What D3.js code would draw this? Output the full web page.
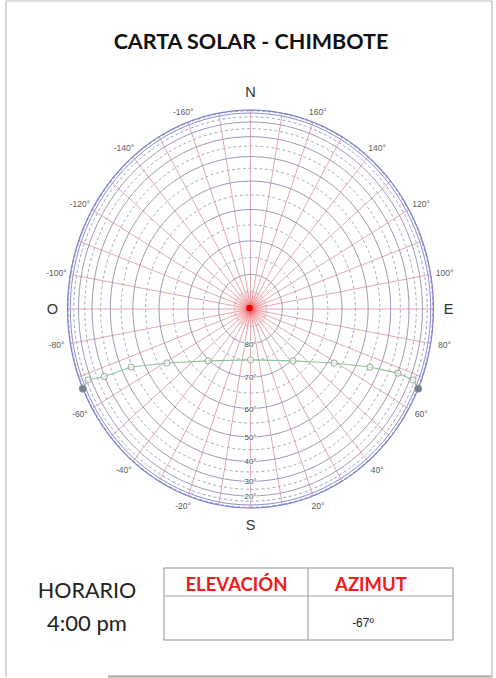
<!DOCTYPE html>
<html>
<head>
<meta charset="utf-8">
<script src="https://cdn.jsdelivr.net/npm/d3@7"></script>
<style>
  html, body { margin: 0; padding: 0; background: #fff; }
  svg { display: block; }
</style>
</head>
<body>
<svg id="chart" width="496" height="678"></svg>
<script>
// ---------------- DATA ----------------
const title = "CARTA SOLAR - CHIMBOTE";
const azimuthTicks = [-160, -140, -120, -100, -80, -60, -40, -20, 20, 40, 60, 80, 100, 120, 140, 160];
const elevationTicks = [80, 70, 60, 50, 40, 30, 20];
const solidCircles = [80, 70, 60, 50, 40, 30, 20, 10];
const dashedCircles = [85, 75, 65, 55, 45, 35, 25, 15, 5];
const radialLines = d3.range(-180, 180, 10);
const cardinalNames = ["N", "E", "S", "O"];
const cardinalAzimuth = [180, 90, 0, -90];
const sunHours = ["6:00", "7:00", "8:00", "9:00", "10:00", "11:00", "12:00", "13:00", "14:00", "15:00", "16:00", "17:00", "18:00"];
const sunAzimuth = [66.4, 68.1, 68.2, 65.9, 59.3, 41.6, 0, -41.6, -59.3, -65.9, -67, -68.1, -66.4];
const sunElevation = [0, 16.9, 29.8, 44.4, 57.9, 69.6, 75.2, 69.6, 57.9, 44.4, 29.8, 16.9, 0];
const horarioLabel = "HORARIO";
const horarioValue = "4:00 pm";
const tableHeaders = ["ELEVACIÓN", "AZIMUT"];
const tableValues = ["", "-67º"];

// ---------------- LAYOUT ----------------
const svg = d3.select("#chart");
const cx = 250.5, cy = 309, rx = 183, ry = 199;
const rad = d => d * Math.PI / 180;

// scales on projected unit coordinates (orthographic: r = cos(elevation))
const x = d3.scaleLinear().domain([-1, 1]).range([cx - rx, cx + rx]);
const y = d3.scaleLinear().domain([-1, 1]).range([cy - ry, cy + ry]);
const xLab = d3.scaleLinear().domain([-1, 1]).range([cx - 197, cx + 197]);
const yLab = d3.scaleLinear().domain([-1, 1]).range([cy - 210, cy + 210]);
const xCard = d3.scaleLinear().domain([-1, 1]).range([cx - 198, cx + 198]);
const yCard = d3.scaleLinear().domain([-1, 1]).range([cy - 217, cy + 216]);

const px = (az, el) => x(Math.cos(rad(el)) * Math.sin(rad(az)));
const py = (az, el) => y(Math.cos(rad(el)) * Math.cos(rad(az)));

// frame
const frame = svg.append("g").attr("stroke", "#bdbdbd").attr("fill", "none");
frame.append("line").attr("x1", 6).attr("y1", 1).attr("x2", 492).attr("y2", 1).attr("stroke-width", 1.2);
frame.append("line").attr("x1", 6).attr("y1", 1).attr("x2", 6).attr("y2", 677).attr("stroke-width", 1.2);
frame.append("line").attr("x1", 492).attr("y1", 1).attr("x2", 492).attr("y2", 677).attr("stroke-width", 1.2);
frame.append("line").attr("x1", 108).attr("y1", 676.5).attr("x2", 492).attr("y2", 676.5).attr("stroke", "#a8a8a8").attr("stroke-width", 2);

// title
svg.append("text").attr("x", 251).attr("y", 49).attr("text-anchor", "middle")
  .attr("font-family", "Lato, 'Open Sans', sans-serif").attr("font-weight", "bold")
  .attr("font-size", 21.5).attr("fill", "#111").text(title);

const chart = svg.append("g");

// center glow
const defs = svg.append("defs");
const grad = defs.append("radialGradient").attr("id", "glow");
grad.append("stop").attr("offset", "0%").attr("stop-color", "#ff2020").attr("stop-opacity", 0.85);
grad.append("stop").attr("offset", "30%").attr("stop-color", "#ff6a6a").attr("stop-opacity", 0.4);
grad.append("stop").attr("offset", "100%").attr("stop-color", "#ffc0c0").attr("stop-opacity", 0);

const ring = el => d3.range(0, 360, 3).map(a => [px(a, el), py(a, el)]);
const lineGen = d3.line().curve(d3.curveLinearClosed);

// dashed circles
chart.append("g").selectAll("path").data(dashedCircles).join("path")
  .attr("d", d => lineGen(ring(d)))
  .attr("fill", "none").attr("stroke", d => d <= 15 ? "#8e90cc" : "#9a9cbc")
  .attr("stroke-width", 0.85).attr("stroke-dasharray", "3,2.5");

// radial lines
chart.append("g").selectAll("line").data(radialLines).join("line")
  .attr("x1", d => px(d, 90)).attr("y1", d => py(d, 90))
  .attr("x2", d => px(d, 0)).attr("y2", d => py(d, 0))
  .attr("stroke", "#d99aa8").attr("stroke-width", 0.85);

// solid circles
chart.append("g").selectAll("path").data(solidCircles).join("path")
  .attr("d", d => lineGen(ring(d)))
  .attr("fill", "none").attr("stroke", d => d <= 10 ? "#8587c8" : "#9b93b0")
  .attr("stroke-width", 0.95);

// horizon circles
chart.append("path").attr("d", lineGen(ring(2.5)))
  .attr("fill", "none").attr("stroke", "#a5a7da").attr("stroke-width", 0.8).attr("stroke-dasharray", "3,2");
chart.append("path").attr("d", lineGen(ring(0)))
  .attr("fill", "none").attr("stroke", "#7e80c8").attr("stroke-width", 1.1);

// center glow + dot
chart.append("ellipse").attr("cx", px(0, 90)).attr("cy", py(0, 90)).attr("rx", 22).attr("ry", 24).attr("fill", "url(#glow)");
chart.append("circle").attr("cx", px(0, 90) - 1).attr("cy", py(0, 90) - 1).attr("r", 3.2).attr("fill", "#e80000");

// elevation labels
chart.append("g").selectAll("text").data(elevationTicks).join("text")
  .attr("x", d => px(0, d)).attr("y", d => py(0, d) + 3)
  .attr("text-anchor", "middle").attr("font-family", "Arial, 'Liberation Sans', sans-serif")
  .attr("font-size", 8).attr("fill", "#444")
  .attr("stroke", "#fff").attr("stroke-width", 1.5).attr("paint-order", "stroke")
  .text(d => d + "°");

// azimuth labels
chart.append("g").selectAll("text").data(azimuthTicks).join("text")
  .attr("x", d => xLab(Math.sin(rad(d)))).attr("y", d => yLab(Math.cos(rad(d))) + 3)
  .attr("text-anchor", "middle").attr("font-family", "Arial, 'Liberation Sans', sans-serif")
  .attr("font-size", 8.5).attr("fill", "#5a5a5a")
  .text(d => d + "°");

// cardinal labels
chart.append("g").selectAll("text").data(cardinalNames).join("text")
  .attr("x", (d, i) => xCard(Math.sin(rad(cardinalAzimuth[i]))))
  .attr("y", (d, i) => yCard(Math.cos(rad(cardinalAzimuth[i]))) + 5)
  .attr("text-anchor", "middle").attr("font-family", "Arial, 'Liberation Sans', sans-serif")
  .attr("font-size", 14.5).attr("fill", "#333")
  .text(d => d);

// sun path
const sunPts = sunHours.map((h, i) => ({ h, az: sunAzimuth[i], el: sunElevation[i] }));
chart.append("path")
  .attr("d", d3.line().x(d => px(d.az, d.el)).y(d => py(d.az, d.el))(sunPts))
  .attr("fill", "none").attr("stroke", "#8cc49a").attr("stroke-width", 1.1);
chart.append("g").selectAll("circle").data(sunPts).join("circle")
  .attr("cx", d => px(d.az, d.el)).attr("cy", d => py(d.az, d.el))
  .attr("r", d => d.el === 0 ? 3.6 : 3.1)
  .attr("fill", d => d.el === 0 ? "#7a7c90" : "#fff")
  .attr("fill-opacity", d => d.el === 0 ? 1 : 0.6)
  .attr("stroke", "#949e94").attr("stroke-width", 0.9);

// ---------------- TABLE ----------------
const font = "Lato, 'Open Sans', sans-serif";
svg.append("text").attr("x", 87).attr("y", 598).attr("text-anchor", "middle")
  .attr("font-family", font).attr("font-size", 21.5).attr("fill", "#222").text(horarioLabel);
svg.append("text").attr("x", 87).attr("y", 631).attr("text-anchor", "middle")
  .attr("font-family", font).attr("font-size", 22).attr("fill", "#222").text(horarioValue);

const tx = [164, 308, 453], ty = [568, 596, 640];
const tbl = svg.append("g").attr("stroke", "#a3a3a3").attr("stroke-width", 1.2).attr("fill", "none");
tbl.append("rect").attr("x", tx[0]).attr("y", ty[0]).attr("width", tx[2] - tx[0]).attr("height", ty[2] - ty[0]);
tbl.append("line").attr("x1", tx[0]).attr("x2", tx[2]).attr("y1", ty[1]).attr("y2", ty[1]);
tbl.append("line").attr("x1", tx[1]).attr("x2", tx[1]).attr("y1", ty[0]).attr("y2", ty[2]);

const headerX = [236.5, 371];
svg.append("g").selectAll("text").data(tableHeaders).join("text")
  .attr("x", (d, i) => headerX[i]).attr("y", 591).attr("text-anchor", "middle")
  .attr("font-family", font).attr("font-weight", "bold").attr("font-size", 18.5)
  .attr("fill", "#ee1c1c").text(d => d);
const valueX = [236.5, 363];
svg.append("g").selectAll("text").data(tableValues).join("text")
  .attr("x", (d, i) => valueX[i]).attr("y", 627).attr("text-anchor", "middle")
  .attr("font-family", "Arial, 'Liberation Sans', sans-serif").attr("font-size", 12)
  .attr("fill", "#222").text(d => d);
</script>
</body>
</html>
